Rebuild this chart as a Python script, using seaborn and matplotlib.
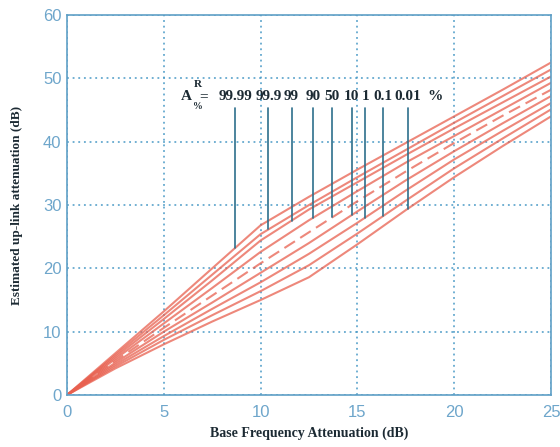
import numpy as np
import pandas as pd
import matplotlib
matplotlib.use("Agg")
import matplotlib.pyplot as plt
import seaborn as sns

# base frequency attenuation (dB)
base_att = [0, 2.5, 5, 7.5, 10, 12.5, 15, 17.5, 20, 22.5, 25]

# estimated up-link attenuation for each exceedance percentage
percent_labels = ["99.99", "99.9", "99", "90", "50", "10", "1", "0.1", "0.01"]
p_9999 = [0, 6.6, 13.2, 20.0, 26.8, 31.3, 35.6, 39.8, 44.0, 48.2, 52.5]
p_999 = [0, 6.3, 12.6, 19.0, 25.4, 30.0, 34.4, 38.7, 43.0, 47.2, 51.4]
p_99 = [0, 6.0, 12.0, 18.1, 24.4, 29.3, 33.6, 37.9, 42.1, 46.2, 50.3]
p_90 = [0, 5.7, 11.3, 16.9, 22.6, 27.6, 32.2, 36.7, 40.9, 45.1, 49.3]
p_50 = [0, 5.4, 10.6, 15.7, 20.8, 25.7, 30.6, 35.3, 39.8, 44.1, 48.2]
p_10 = [0, 5.1, 10.0, 14.6, 19.3, 24.0, 29.0, 33.9, 38.5, 42.9, 47.2]
p_1 = [0, 4.8, 9.3, 13.6, 17.8, 22.3, 27.2, 32.3, 37.2, 41.7, 46.1]
p_01 = [0, 4.5, 8.7, 12.6, 16.4, 20.5, 25.5, 30.7, 35.8, 40.5, 45.1]
p_001 = [0, 4.2, 8.0, 11.6, 15.0, 18.6, 23.8, 29.2, 34.4, 39.3, 44.0]
curves = [p_9999, p_999, p_99, p_90, p_50, p_10, p_1, p_01, p_001]

# where each label's pointer touches its curve
pointer_x = [8.7, 10.4, 11.6, 12.7, 13.7, 14.7, 15.4, 16.3, 17.6]
pointer_top = 45.3

rows = []
for lab, vals in zip(percent_labels, curves):
    for xv, yv in zip(base_att, vals):
        rows.append({"base": xv, "uplink": yv, "p": lab})
df = pd.DataFrame(rows)

sns.set_style("white")
plt.rcParams["font.family"] = ["Liberation Sans", "DejaVu Sans"]

tick_col = "#6ea6cb"
axis_col = "#5f9fc6"
red = "#e8604f"
dark = "#1c2a33"
serif = "Liberation Serif"

fig = plt.figure(figsize=(5.6, 4.47), dpi=100)
ax = fig.add_axes([0.1196, 0.1163, 0.8644, 0.8501])

for lab in percent_labels:
    sub = df[df["p"] == lab]
    ls = (0, (6, 3)) if lab == "50" else "-"
    sns.lineplot(data=sub, x="base", y="uplink", ax=ax, color=red,
                 linewidth=1.5, linestyle=ls, alpha=0.75)

# pointers and labels
for lab, px, vals in zip(percent_labels, pointer_x, curves):
    y_end = np.interp(px, base_att, vals)
    ax.plot([px, px], [y_end, pointer_top], color="#2e6f8c", linewidth=1.2)
    ax.text(px, 46.1, lab, ha="center", va="bottom", fontsize=11,
            fontweight="bold", family=serif, color=dark)
ax.text(pointer_x[-1] + 1.0, 46.1, "%", ha="left", va="bottom", fontsize=11,
        fontweight="bold", family=serif, color=dark)
ax.text(6.45, 46.1, "A", ha="right", va="bottom", fontsize=11,
        fontweight="bold", family=serif, color=dark)
ax.text(6.55, 48.3, "R", ha="left", va="bottom", fontsize=8,
        fontweight="bold", family=serif, color=dark)
ax.text(6.5, 44.9, "%", ha="left", va="bottom", fontsize=7,
        fontweight="bold", family=serif, color=dark)
ax.text(7.05, 46.1, "=", ha="center", va="bottom", fontsize=11,
        fontweight="bold", family=serif, color=dark)

ax.set_xlim(0, 25)
ax.set_ylim(0, 60)
ax.set_xticks([0, 5, 10, 15, 20, 25])
ax.set_yticks([0, 10, 20, 30, 40, 50, 60])
ax.grid(True, color="#4a9ac6", linestyle=(0, (1.2, 2.5)), linewidth=1.1)
for s in ax.spines.values():
    s.set_color(axis_col)
    s.set_linewidth(1.2)
ax.tick_params(direction="in", colors=axis_col, labelcolor=tick_col,
               labelsize=12, length=4, pad=4)
ax.tick_params(axis="x", pad=7)

ax.set_xlabel("Base Frequency Attenuation (dB)", family=serif,
              fontweight="bold", fontsize=10, color=dark, labelpad=5)
ax.set_ylabel("Estimated up-link attenuation (dB)", family=serif,
              fontweight="bold", fontsize=9.5, color=dark, labelpad=14)

fig.savefig("out.png", dpi=100)
